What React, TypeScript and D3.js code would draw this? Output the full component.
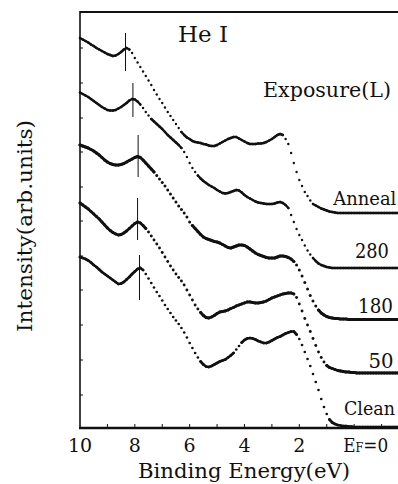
import React from 'react';
import * as d3 from 'd3';

// Binding energy grid (eV), 0.1 eV steps from 10.0 down to -1.6
const energies: number[] = d3.range(117).map((i) => Math.round((10 - i * 0.1) * 10) / 10);

const seriesNames = ['Anneal', '280', '180', '50', 'Clean'];

// Intensities (arb. units, stacked), one value per energy in `energies`
const annealValues = [
  39.0, 38.85, 38.7, 38.55, 38.35, 38.2, 38.0, 37.85, 37.7, 37.55,
  37.4, 37.3, 37.2, 37.25, 37.4, 37.6, 37.85, 38.0, 37.85, 37.5,
  37.0, 36.55, 36.1, 35.65, 35.2, 34.75, 34.3, 33.8, 33.35, 32.9,
  32.5, 32.05, 31.6, 31.2, 30.8, 30.4, 30.0, 29.6, 29.3, 29.05,
  28.9, 28.7, 28.6, 28.55, 28.5, 28.4, 28.35, 28.25, 28.2, 28.2,
  28.3, 28.45, 28.6, 28.75, 28.9, 29.0, 29.1, 29.1, 28.95, 28.8,
  28.65, 28.5, 28.4, 28.4, 28.4, 28.45, 28.45, 28.5, 28.6, 28.75,
  28.9, 29.1, 29.3, 29.4, 29.3, 28.9, 28.4, 27.5, 26.5, 25.6,
  24.8, 24.2, 23.6, 23.2, 22.75, 22.4, 22.25, 22.1, 21.95, 21.85,
  21.75, 21.65, 21.6, 21.55,
  21.5, 21.5, 21.5, 21.5, 21.5, 21.5, 21.5, 21.5, 21.5, 21.5,
  21.5, 21.5, 21.5, 21.5, 21.5, 21.5, 21.5, 21.5, 21.5, 21.5,
  21.5, 21.5, 21.5,
];

const exp280Values = [
  33.55, 33.4, 33.25, 33.1, 32.9, 32.7, 32.5, 32.3, 32.1, 31.95,
  31.8, 31.75, 31.75, 31.8, 31.95, 32.1, 32.3, 32.5, 32.75, 32.9,
  32.85, 32.65, 32.35, 32.0, 31.6, 31.25, 30.9, 30.65, 30.4, 30.15,
  29.9, 29.6, 29.3, 29.05, 28.8, 28.55, 28.3, 28.0, 27.6, 27.1,
  26.5, 26.0, 25.6, 25.25, 24.95, 24.7, 24.5, 24.3, 24.15, 24.0,
  23.8, 23.65, 23.5, 23.45, 23.5, 23.6, 23.7, 23.8, 23.75, 23.55,
  23.3, 23.1, 22.95, 22.8, 22.65, 22.55, 22.5, 22.45, 22.4, 22.4,
  22.4, 22.45, 22.55, 22.6, 22.5, 22.3, 22.0, 21.3, 20.6, 19.9,
  19.3, 18.8, 18.25, 17.75, 17.35, 17.0, 16.7, 16.45, 16.3, 16.2,
  16.1, 16.05,
  16.0, 16.0, 16.0, 16.0, 16.0, 16.0, 16.0, 16.0, 16.0, 16.0,
  16.0, 16.0, 16.0, 16.0, 16.0, 16.0, 16.0, 16.0, 16.0, 16.0,
  16.0, 16.0, 16.0, 16.0, 16.0,
];

const exp180Values = [
  28.3, 28.2, 28.1, 28.0, 27.85, 27.7, 27.5, 27.3, 27.05, 26.8,
  26.6, 26.45, 26.35, 26.3, 26.3, 26.35, 26.45, 26.6, 26.75, 26.9,
  27.05, 27.15, 27.05, 26.8, 26.5, 26.2, 25.9, 25.6, 25.25, 24.9,
  24.55, 24.2, 23.8, 23.4, 23.0, 22.6, 22.2, 21.85, 21.5, 21.1,
  20.6, 20.25, 19.95, 19.65, 19.35, 19.1, 18.95, 18.85, 18.75, 18.65,
  18.6, 18.5, 18.35, 18.2, 18.05, 18.0, 18.1, 18.2, 18.3, 18.3,
  18.25, 18.1, 17.9, 17.7, 17.5, 17.35, 17.25, 17.15, 17.05, 17.0,
  17.0, 17.0, 17.1, 17.2, 17.2, 17.15, 17.05, 16.9, 16.65, 16.3,
  15.8, 15.2, 14.55, 13.9, 13.25, 12.7, 12.2, 11.8, 11.5, 11.3,
  11.15, 11.05, 11.0, 10.95, 10.95, 10.9, 10.9, 10.9,
  10.85, 10.85, 10.85, 10.85, 10.85, 10.85, 10.85, 10.85, 10.85, 10.85,
  10.85, 10.85, 10.85, 10.85, 10.85, 10.85, 10.85, 10.85, 10.85,
];

const exp50Values = [
  22.5, 22.3, 22.1, 21.9, 21.65, 21.4, 21.15, 20.9, 20.6, 20.3,
  20.0, 19.75, 19.55, 19.4, 19.3, 19.35, 19.5, 19.7, 19.95, 20.2,
  20.45, 20.6, 20.5, 20.25, 19.95, 19.6, 19.2, 18.8, 18.4, 18.0,
  17.55, 17.1, 16.65, 16.2, 15.8, 15.4, 15.05, 14.7, 14.3, 13.8,
  13.3, 12.8, 12.3, 11.9, 11.55, 11.25, 11.05, 11.0, 11.1, 11.25,
  11.45, 11.6, 11.65, 11.7, 11.8, 11.95, 12.05, 12.2, 12.3, 12.4,
  12.5, 12.6, 12.6, 12.55, 12.5, 12.5, 12.55, 12.6, 12.7, 12.85,
  13.0, 13.1, 13.2, 13.3, 13.4, 13.45, 13.5, 13.5, 13.4, 13.05,
  12.4, 11.7, 10.95, 10.3, 9.65, 8.95, 8.25, 7.6, 7.05, 6.6,
  6.25, 6.05, 5.95, 5.85, 5.75, 5.7, 5.65, 5.6, 5.6, 5.55, 5.55,
  5.5, 5.5, 5.5, 5.5, 5.5, 5.5, 5.5, 5.5, 5.5, 5.5,
  5.5, 5.5, 5.5, 5.5, 5.5, 5.5,
];

const cleanValues = [
  17.1, 17.0, 16.9, 16.75, 16.55, 16.3, 16.1, 15.85, 15.6, 15.4,
  15.2, 15.0, 14.8, 14.6, 14.4, 14.45, 14.6, 14.85, 15.1, 15.4,
  15.65, 15.9, 16.0, 15.8, 15.4, 14.95, 14.5, 14.05, 13.6, 13.2,
  12.75, 12.3, 11.9, 11.5, 11.1, 10.75, 10.4, 10.0, 9.55, 9.05,
  8.5, 8.0, 7.5, 7.05, 6.65, 6.35, 6.15, 6.1, 6.2, 6.35,
  6.5, 6.65, 6.75, 6.85, 7.05, 7.25, 7.5, 7.85, 8.2, 8.55,
  8.8, 8.95, 9.0, 8.95, 8.85, 8.7, 8.6, 8.5, 8.5, 8.6,
  8.75, 8.9, 9.05, 9.15, 9.3, 9.45, 9.55, 9.65, 9.65, 9.35,
  8.9, 8.3, 7.6, 6.9, 6.2, 5.4, 4.6, 3.8, 2.9, 2.1,
  1.4, 0.85, 0.55, 0.4, 0.3, 0.25, 0.2, 0.2, 0.15, 0.15, 0.1,
  0.1, 0.1, 0.1, 0.1, 0.1, 0.1, 0.1, 0.1, 0.1, 0.1,
  0.1, 0.1, 0.1, 0.1, 0.1, 0.1,
];

const seriesValues = [annealValues, exp280Values, exp180Values, exp50Values, cleanValues];

// Peak markers (vertical bars) per spectrum
const peakEnergy = [8.34, 8.07, 7.88, 7.9, 7.83];
const peakMarkTop = [39.5, 34.5, 29.3, 23.0, 17.3];
const peakMarkBottom = [35.7, 31.1, 25.1, 18.8, 12.8];

// Axes
const xTicks = [9, 8, 7, 6, 5, 4, 3, 2, 1, 0, -1];
const xTickLabelValues = [10, 8, 6, 4, 2];
const xTickLabels = ['10', '8', '6', '4', '2'];
const yTicks = [3.3, 6.8, 10.3, 13.8, 17.2, 20.7, 24.1, 27.6, 31.0, 34.5, 38.0];

const W = 398;
const H = 484;

export default function App() {
  const x = d3.scaleLinear().domain([10, -1.6]).range([80, 398]);
  const y = d3.scaleLinear().domain([0, 41.6]).range([428, 12]);

  const ink = '#111';
  const font = "'DejaVu Serif', serif";
  const dotR = [1.2, 1.2, 1.5, 1.45, 1.35];
  const joinDist = 4.3;

  // label layout (start energy, baseline intensity, font size, textLength)
  const labelLayout = [
    { e: 0.76, u: 22.3, fs: 18, len: 63 },
    { e: -0.03, u: 17.0, fs: 20, len: 34 },
    { e: -0.14, u: 11.5, fs: 20, len: 35 },
    { e: -0.52, u: 6.0, fs: 20, len: 25 },
    { e: 0.37, u: 1.3, fs: 18, len: 51 },
  ];

  return (
    <svg
      width={W}
      height={H}
      viewBox={`0 0 ${W} ${H}`}
      style={{ position: 'absolute', left: 0, top: 0, background: '#fff' }}
      fontFamily={font}
    >
      <rect x={0} y={0} width={W} height={H} fill="#fff" />

      {/* frame */}
      <line x1={x(10)} x2={x(-1.6)} y1={y(41.6)} y2={y(41.6)} stroke={ink} strokeWidth={2} />
      <line x1={x(10)} x2={x(10)} y1={y(41.6) - 1} y2={y(0) + 1} stroke={ink} strokeWidth={1.6} />
      <line x1={x(10) - 1} x2={x(-1.6)} y1={y(0)} y2={y(0)} stroke={ink} strokeWidth={2.5} />

      {/* ticks */}
      {xTicks.map((t) => (
        <line key={'xt' + t} x1={x(t)} x2={x(t)} y1={y(0)} y2={y(0) - 4} stroke={ink} strokeWidth={1} />
      ))}
      {yTicks.map((t) => (
        <line key={'yt' + t} x1={x(10)} x2={x(10) + 3} y1={y(t)} y2={y(t)} stroke={ink} strokeWidth={1} />
      ))}

      {/* tick labels */}
      {xTickLabelValues.map((v, i) => (
        <text key={'xl' + v} x={x(v)} y={452} textAnchor="middle" fontSize={19} fill={ink}>
          {xTickLabels[i]}
        </text>
      ))}
      <text x={x(0) - 11} y={452} fontSize={18} fill={ink} textLength={45} lengthAdjust="spacingAndGlyphs">
        E<tspan fontSize={12}>F</tspan>=0
      </text>

      {/* axis titles */}
      <text x={244} y={478} textAnchor="middle" fontSize={21} fill={ink} textLength={212} lengthAdjust="spacingAndGlyphs">
        Binding Energy(eV)
      </text>
      <text
        transform={`translate(32,226) rotate(-90)`}
        textAnchor="middle"
        fontSize={21}
        fill={ink}
        textLength={212}
        lengthAdjust="spacingAndGlyphs"
      >
        Intensity(arb.units)
      </text>

      {/* annotations */}
      <text x={178} y={42} fontSize={23} fill={ink} textLength={50} lengthAdjust="spacingAndGlyphs">
        He I
      </text>
      <text x={263} y={97} fontSize={20} fill={ink} textLength={128} lengthAdjust="spacingAndGlyphs">
        Exposure(L)
      </text>

      {/* spectra: dots, joined where points are dense */}
      {seriesValues.map((vals, si) => {
        const pts = vals.map((v, i) => [x(energies[i]), y(v)] as [number, number]);
        let d = '';
        for (let i = 1; i < pts.length; i++) {
          const [x0, y0] = pts[i - 1];
          const [x1, y1] = pts[i];
          if (Math.hypot(x1 - x0, y1 - y0) <= joinDist) {
            d += `M${x0.toFixed(2)},${y0.toFixed(2)}L${x1.toFixed(2)},${y1.toFixed(2)}`;
          }
        }
        return (
          <g key={'s' + si}>
            <path d={d} fill="none" stroke={ink} strokeWidth={dotR[si] * 2} strokeLinecap="round" />
            <g fill={ink}>
              {pts.map(([cx, cy], i) => (
                <circle key={i} cx={cx} cy={cy} r={dotR[si]} />
              ))}
            </g>
          </g>
        );
      })}

      {/* peak markers */}
      {peakEnergy.map((e, i) => (
        <line
          key={'pm' + i}
          x1={x(e)}
          x2={x(e)}
          y1={y(peakMarkTop[i])}
          y2={y(peakMarkBottom[i])}
          stroke={ink}
          strokeWidth={1}
        />
      ))}

      {/* curve labels */}
      {seriesNames.map((name, i) => {
        const l = labelLayout[i];
        return (
          <text
            key={'lab' + i}
            x={x(l.e)}
            y={y(l.u)}
            fontSize={l.fs}
            fill={ink}
            textLength={l.len}
            lengthAdjust="spacingAndGlyphs"
          >
            {name}
          </text>
        );
      })}
    </svg>
  );
}
